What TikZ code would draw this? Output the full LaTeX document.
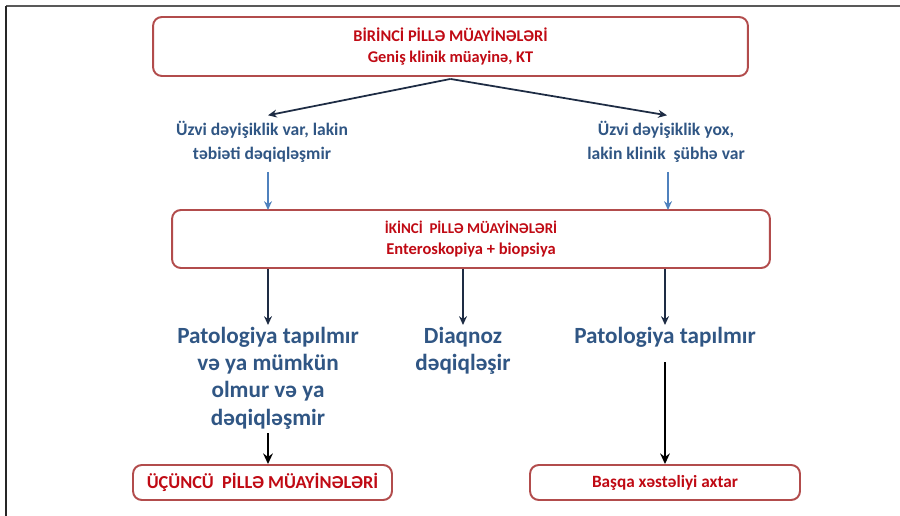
\documentclass[tikz,border=0pt]{standalone}
\usepackage{fontspec}
\setmainfont{Carlito}
\usetikzlibrary{arrows.meta}
\definecolor{boxred}{RGB}{178,76,76}
\definecolor{textred}{RGB}{192,10,20}
\definecolor{textblue}{RGB}{48,86,132}
\definecolor{arrowblue}{RGB}{79,129,189}
\definecolor{arrowdark}{RGB}{30,44,68}
\tikzset{
  stagebox/.style={draw=boxred, line width=1.1pt, rounded corners=5pt, fill=white,
    text=textred, align=center, inner sep=0pt},
  note/.style={text=textblue, font=\bfseries\fontsize{10}{13.6}\selectfont,
    align=center, inner sep=1pt},
  result/.style={text=textblue, font=\bfseries\fontsize{13.2}{15.5}\selectfont,
    align=center, inner sep=1pt},
  darrow/.style={-{Stealth[length=5pt,width=4.5pt]}, line width=1pt, draw=arrowdark},
  barrow/.style={-{Stealth[length=5pt,width=4.5pt]}, line width=0.8pt, draw=arrowblue},
  karrow/.style={-{Stealth[length=6pt,width=5.5pt]}, line width=1.4pt, draw=black},
}
\begin{document}
\begin{tikzpicture}[x=0.02cm,y=-0.02cm]
\useasboundingbox (0,0) rectangle (900,516);
% frame of the scan
\draw[black!65, line width=0.04cm] (6,6) -- (900,6);
\draw[black!85, line width=0.03cm] (6,6) -- (6,516);

% first stage
\node[stagebox, minimum width=11.9cm, minimum height=1.18cm,
  font=\bfseries\fontsize{9.3}{12.4}\selectfont] (first) at (450.5,46.5)
  {BİRİNCİ PİLLƏ MÜAYİNƏLƏRİ\\Geniş klinik müayinə, KT};
\node[note] (leftq) at (262,142) {Üzvi dəyişiklik var, lakin\\təbiəti dəqiqləşmir};
\node[note] (rightq) at (666,142) {Üzvi dəyişiklik yox,\\lakin klinik\ \ şübhə var};

% second stage
\node[stagebox, minimum width=11.96cm, minimum height=1.16cm] (second) at (471,239)
  {\bfseries\fontsize{8.5}{11}\selectfont İKİNCİ\ \ PİLLƏ MÜAYİNƏLƏRİ\\
   \bfseries\fontsize{9.4}{11}\selectfont Enteroskopiya + biopsiya};

% results
\node[result, anchor=north] (resa) at (268,325)
  {Patologiya tapılmır\\və ya mümkün\\olmur və ya\\dəqiqləşmir};
\node[result, anchor=north] (resb) at (463,325) {Diaqnoz\\dəqiqləşir};
\node[result, anchor=north] (resc) at (665,325) {Patologiya tapılmır};

% third stage
\node[stagebox, minimum width=5.18cm, minimum height=0.7cm,
  font=\bfseries\fontsize{10.4}{12}\selectfont] (third) at (262.5,482.5)
  {ÜÇÜNCÜ\ \ PİLLƏ MÜAYİNƏLƏRİ};
\node[stagebox, minimum width=5.4cm, minimum height=0.7cm,
  font=\bfseries\fontsize{9.8}{12}\selectfont] (other) at (665,482.5)
  {Başqa xəstəliyi axtar};

% connectors
\draw[darrow] ([yshift=-0.04cm]first.south) -- ([xshift=0.12cm,yshift=0.08cm]leftq.north);
\draw[darrow] ([yshift=-0.04cm]first.south) -- ([xshift=0.02cm,yshift=0.08cm]rightq.north);
\draw[barrow] (268,172) -- (268,210);
\draw[barrow] (668,172) -- (668,210);
\draw[darrow] (resa.north |- second.south) -- (resa.north);
\draw[darrow] (resb.north |- second.south) -- (resb.north);
\draw[darrow] (resc.north |- second.south) -- (resc.north);
\draw[karrow] ([yshift=-0.04cm]resa.south) -- (resa.south |- third.north);
\draw[karrow] ([yshift=-0.26cm]resc.south) -- (resc.south |- other.north);
\end{tikzpicture}
\end{document}
